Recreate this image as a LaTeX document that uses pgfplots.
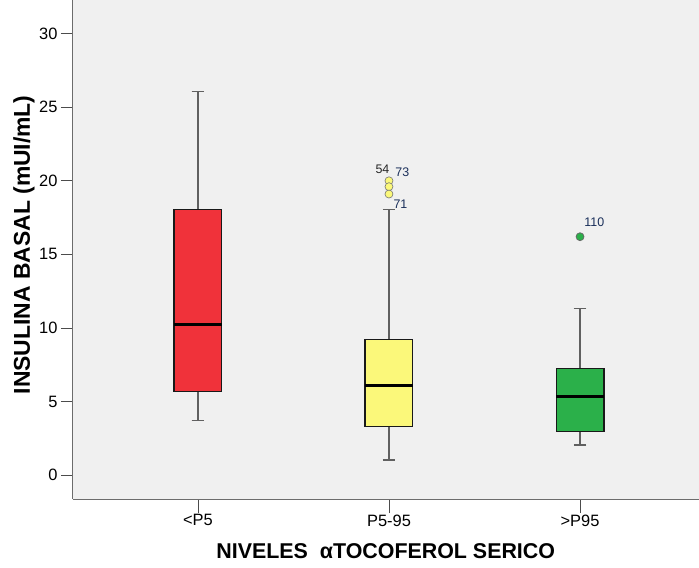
\documentclass[border=0pt]{standalone}
\usepackage{pgfplots}
\pgfplotsset{compat=1.18}
\usepgfplotslibrary{statistics}
\usepackage{fontspec}
\setmainfont{Liberation Sans}
\definecolor{bg}{HTML}{F0F0F0}
\definecolor{cred}{HTML}{F0323A}
\definecolor{cyel}{HTML}{FBF87A}
\definecolor{cgrn}{HTML}{2BB04A}
\definecolor{lbl}{HTML}{1A2F5A}
\definecolor{wh}{HTML}{606060}
\begin{document}
\begin{tikzpicture}
\begin{axis}[name=ax, scale only axis, width=626bp, height=499bp,
  xmin=0.346, xmax=3.62, ymin=-1.63, ymax=32.25,
  axis x line*=bottom, axis y line*=left,
  axis background/.style={fill=bg},
  axis line style={draw=gray!85!black, line width=1pt},
  xtick={1,2,3}, xticklabels={{<P5},{P5-95},{>P95}},
  ytick={0,5,...,30},
  tick align=outside,
  major tick length=12bp,
  tick style={draw=black!70, line width=0.8pt},
  xtick style={/pgfplots/major tick length=14bp},
  ticklabel style={font=\fontsize{16.5}{18}\selectfont},
  /pgf/number format/assume math mode=true,
  every axis y label/.style={at={(axis description cs:-0.0783,0.51)}, rotate=90, anchor=center, font=\fontsize{23}{25}\selectfont\bfseries},
  every axis x label/.style={at={(axis description cs:0.5,-0.105)}, anchor=center, font=\fontsize{21.5}{23}\selectfont\bfseries},
  ylabel={INSULINA BASAL (mUI/mL)},
  xlabel={NIVELES\ \ αTOCOFEROL SERICO},
  clip=false,
  boxplot/draw direction=y,
  boxplot/box extend=0.25,
  boxplot/whisker extend=0.065,
  boxplot/every whisker/.style={draw=wh, line width=1.3pt},
  boxplot/every box/.style={draw=black!90, line width=1.2pt},
  boxplot/every median/.style={draw=black, line width=2.8pt},
]
\addplot[fill=cred, boxplot prepared={draw position=1, lower whisker=3.73, lower quartile=5.7, median=10.25, upper quartile=18.06, upper whisker=26.07}] coordinates {};
\addplot[fill=cyel, mark=*, mark size=4bp, mark options={fill=cyel, draw=black!55, line width=0.6pt},
  boxplot prepared={draw position=2, lower whisker=1.02, lower quartile=3.33, median=6.11, upper quartile=9.23, upper whisker=18.06}]
  table[row sep=\\, y index=0] {20.0\\19.6\\19.1\\};
\addplot[fill=cgrn, mark=*, mark size=4bp, mark options={fill=cgrn, draw=black!60, line width=0.7pt},
  boxplot prepared={draw position=3, lower whisker=2.04, lower quartile=2.99, median=5.36, upper quartile=7.26, upper whisker=11.34}]
  table[row sep=\\, y index=0] {16.2\\};
\node[font=\fontsize{12.5}{13}\selectfont, text=black!85] at (axis cs:1.966,20.75) {54};
\node[font=\fontsize{12.5}{13}\selectfont, text=lbl] at (axis cs:2.07,20.57) {73};
\node[font=\fontsize{12.5}{13}\selectfont, text=lbl] at (axis cs:2.06,18.4) {71};
\node[font=\fontsize{12.5}{13}\selectfont, text=lbl] at (axis cs:3.075,17.18) {110};
\end{axis}
\path ([shift={(-73bp,-68bp)}]ax.south west) rectangle (ax.north east);
\end{tikzpicture}
\end{document}
